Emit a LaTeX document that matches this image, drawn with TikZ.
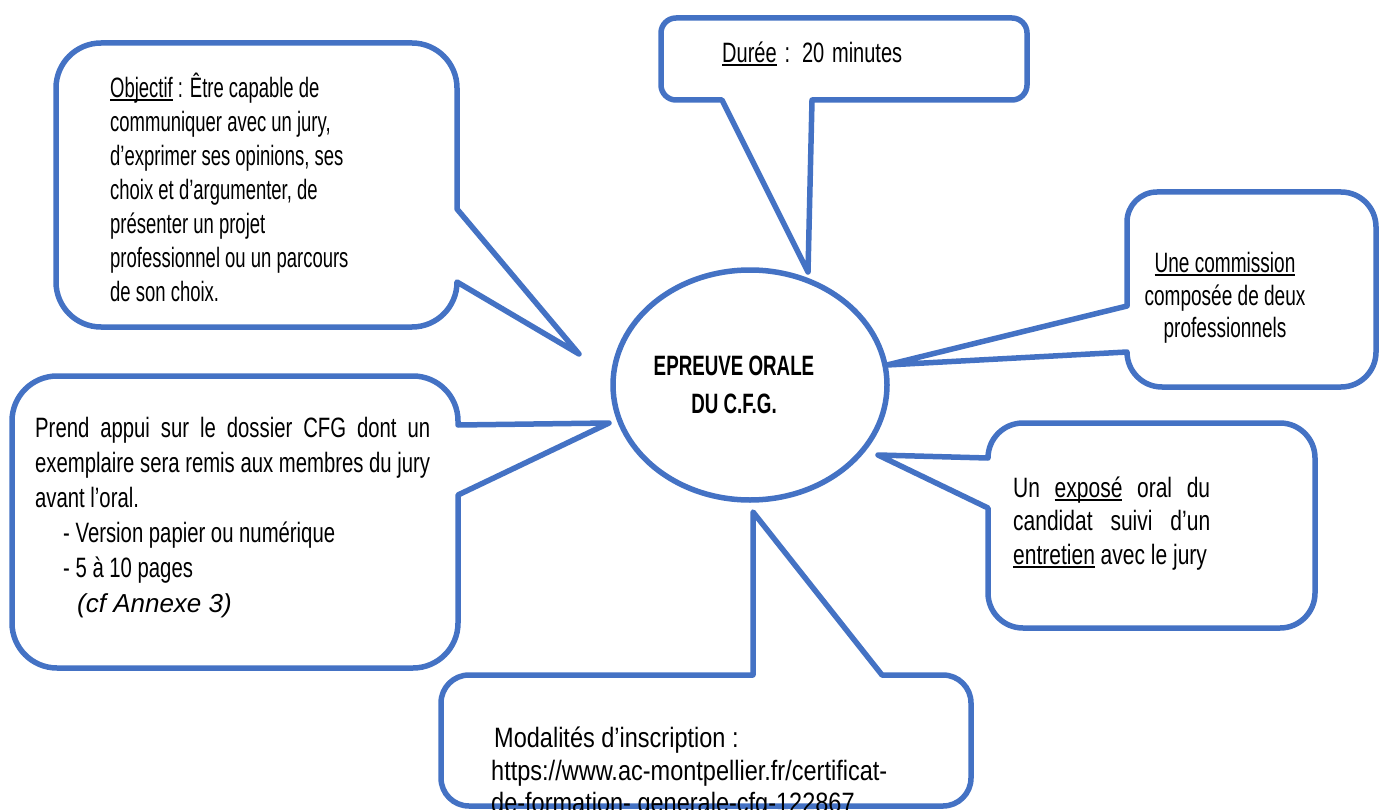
\documentclass[tikz,border=0pt]{standalone}
\usepackage{fontspec}
\usetikzlibrary{shapes.geometric}
\setmainfont{Liberation Sans}
\newfontfamily\fObj[FakeStretch=0.66]{Liberation Sans}
\newfontfamily\fDur[FakeStretch=0.715]{Liberation Sans}
\newfontfamily\fCom[FakeStretch=0.68]{Liberation Sans}
\newfontfamily\fExp[FakeStretch=0.75]{Liberation Sans}
\newfontfamily\fLft[FakeStretch=0.725]{Liberation Sans}
\newfontfamily\fMod[FakeStretch=0.84]{Liberation Sans}
\newfontfamily\fCtr[FakeStretch=0.67]{Liberation Sans}
\definecolor{cblue}{HTML}{4472C4}
\newcommand\ulw[1]{\leavevmode\setbox0=\hbox{#1}\rlap{\rule[-3.5pt]{\wd0}{2pt}}\box0\relax}
\begin{document}
\begin{tikzpicture}[x=1pt,y=-1pt,
  callout/.style={draw=cblue, line width=5.5pt, line join=round, fill=white},
  txt/.style={inner sep=0pt, anchor=base, text=black}]
\useasboundingbox (0,0) rectangle (1380,810);
\clip (0,0) rectangle (1380,810);

% central ellipse
\node[draw=cblue, line width=5.5pt, ellipse, minimum width=274pt, minimum height=230pt, inner sep=0pt] (centre) at (750,385) {};

% Objectif callout
\draw[callout] (250,43) -- (412,43) arc[start angle=270,end angle=360,radius=45]
  -- (457,209) -- (579,354) -- (457,282) arc[start angle=0,end angle=90,radius=45]
  -- (101,327) arc[start angle=90,end angle=180,radius=45]
  -- (56,88) arc[start angle=180,end angle=270,radius=45] -- cycle;

% Duree callout
\draw[callout] (850,18) -- (1012,18) arc[start angle=270,end angle=360,radius=15]
  -- (1027,85) arc[start angle=0,end angle=90,radius=15]
  -- (812,100) -- (808,272) -- (722,100)
  -- (676,100) arc[start angle=90,end angle=180,radius=15]
  -- (661,33) arc[start angle=180,end angle=270,radius=15] -- cycle;

% Commission callout
\draw[callout] (1250,192) -- (1341,192) arc[start angle=270,end angle=360,radius=35]
  -- (1376,352) arc[start angle=0,end angle=90,radius=35]
  -- (1162,387) arc[start angle=90,end angle=180,radius=35]
  -- (887,365) -- (1127,306)
  -- (1127,222) arc[start angle=180,end angle=270,radius=30] -- cycle;

% Expose callout
\draw[callout] (1150,423) -- (1280,423) arc[start angle=270,end angle=360,radius=35]
  -- (1315,593) arc[start angle=0,end angle=90,radius=35]
  -- (1023,628) arc[start angle=90,end angle=180,radius=35]
  -- (988,508) -- (878,455) -- (988,458)
  arc[start angle=180,end angle=270,radius=35] -- cycle;

% Left callout
\draw[callout] (200,376) -- (413,376) arc[start angle=270,end angle=360,radius=45]
  -- (458,425) -- (609,423) -- (458,495)
  -- (458,623) arc[start angle=0,end angle=90,radius=45]
  -- (57,668) arc[start angle=90,end angle=180,radius=45]
  -- (12,421) arc[start angle=180,end angle=270,radius=45] -- cycle;

% Modalites callout
\draw[callout] (600,675) -- (753,675) -- (753,512) -- (882,675)
  -- (943,675) arc[start angle=270,end angle=360,radius=28]
  -- (971,778) arc[start angle=0,end angle=90,radius=28]
  -- (469,806) arc[start angle=90,end angle=180,radius=28]
  -- (441,703) arc[start angle=180,end angle=270,radius=28] -- cycle;

% texts
\node[txt, anchor=base west] (tobj) at (110,98) {\parbox[t]{330pt}{\fObj\fontsize{28}{34}\selectfont\raggedright
  \ulw{Objectif} : Être capable de\\ communiquer avec un jury,\\ d’exprimer ses opinions, ses\\ choix et d’argumenter, de\\ présenter un projet\\ professionnel ou un parcours\\ de son choix.}};

\node[txt, anchor=base west] (tdur) at (722,63) {\fDur\fontsize{28}{34}\selectfont\makebox[180pt][s]{\ulw{Durée} : 20 minutes}};

\node[txt] (tcom) at (1225,272) {\parbox[t]{260pt}{\centering\fCom\fontsize{28}{33}\selectfont
  \ulw{Une commission}\\ composée de deux\\ professionnels}};

\node[txt, anchor=base west] (texp) at (1013,497) {\parbox[t]{197pt}{\fExp\fontsize{28}{33.5}\selectfont
  \makebox[197pt][s]{Un \ulw{exposé} oral du}\\ \makebox[197pt][s]{candidat suivi d’un}\\ \ulw{entretien} avec le jury}};

\node[txt, anchor=base west] (tlft) at (35,437) {\parbox[t]{400pt}{\fLft\fontsize{28}{35}\selectfont
  \makebox[395pt][s]{Prend appui sur le dossier CFG dont un}\\
  \makebox[395pt][s]{exemplaire sera remis aux membres du jury}\\
  avant l’oral.\\
  \hspace*{28pt}- Version papier ou numérique\\
  \hspace*{28pt}- 5 à 10 pages\\
  \hspace*{42pt}{\rmfamily\itshape\fontsize{26}{35}\selectfont (cf Annexe 3)}}};

\node[txt] (tctr) at (734,375) {\parbox[t]{220pt}{\centering\fCtr\bfseries\fontsize{28}{38}\selectfont
  EPREUVE ORALE\\ DU C.F.G.}};

\node[txt, anchor=base west] (tmod) at (494,747) {\fMod\fontsize{28}{32}\selectfont Modalités d’inscription :};
\node[txt, anchor=base west] (turl) at (491,780) {\parbox[t]{470pt}{\fMod\fontsize{28}{32}\selectfont
  https://www.ac-montpellier.fr/certificat-\\ de-formation-\ generale-cfg-122867}};
\end{tikzpicture}
\end{document}
